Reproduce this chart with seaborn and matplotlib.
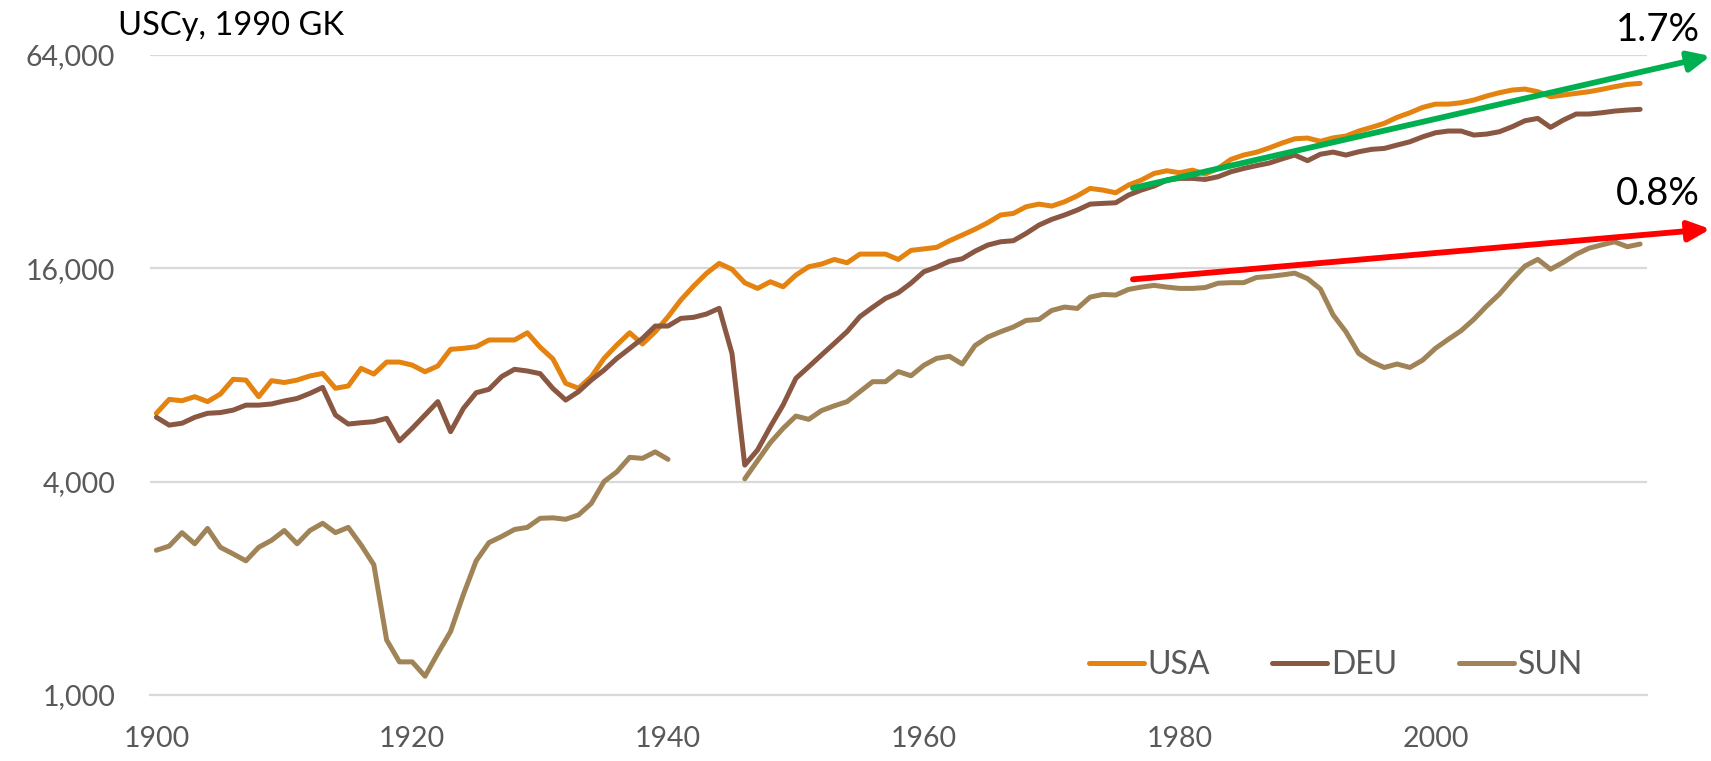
import numpy as np
import pandas as pd
import matplotlib
matplotlib.use('Agg')
import matplotlib.pyplot as plt
import seaborn as sns
from matplotlib.ticker import FixedLocator, FuncFormatter, NullLocator

# GDP per capita, USCy 1990 GK
years = list(range(1900, 2017))

usa = [6230, 6820, 6760, 6940, 6720, 7060, 7770, 7730, 6940, 7700,
       7610, 7730, 7940, 8070, 7330, 7440, 8340, 8040, 8690, 8690,
       8520, 8160, 8470, 9440, 9500, 9600, 10030, 10030, 10030, 10510,
       9570, 8870, 7570, 7330, 7900, 8900, 9710, 10510, 9770, 10580,
       11660, 13000, 14230, 15450, 16490, 15870, 14540, 14020, 14640, 14170,
       15290, 16140, 16420, 16920, 16560, 17520, 17520, 17520, 16920, 17950,
       18120, 18300, 19100, 19820, 20590, 21480, 22580, 22820, 23830, 24240,
       23930, 24610, 25580, 26840, 26550, 26090, 27430, 28330, 29580, 30100,
       29710, 30230, 29450, 30560, 32400, 33330, 33950, 34900, 36030, 37050,
       37220, 36450, 37260, 37710, 38960, 39900, 40950, 42580, 43870, 45420,
       46400, 46400, 46820, 47640, 48900, 49970, 50840, 51160, 50300, 48680,
       49210, 49760, 50300, 51070, 51950, 52750, 53090]

deu = [6070, 5770, 5840, 6070, 6230, 6260, 6360, 6570, 6570, 6620,
       6750, 6860, 7090, 7370, 6160, 5810, 5860, 5900, 6030, 5210,
       5650, 6160, 6720, 5530, 6430, 7120, 7280, 7910, 8290, 8200,
       8060, 7320, 6790, 7170, 7730, 8250, 8900, 9490, 10130, 10980,
       10980, 11540, 11620, 11870, 12320, 9190, 4450, 4910, 5710, 6580,
       7820, 8430, 9100, 9810, 10590, 11670, 12400, 13140, 13630, 14510,
       15620, 16100, 16720, 16990, 17850, 18580, 18980, 19110, 20040, 21150,
       21950, 22580, 23320, 24240, 24350, 24450, 25700, 26550, 27250, 28330,
       28640, 28640, 28450, 28950, 29900, 30550, 31120, 31640, 32510, 33330,
       32140, 33510, 33980, 33330, 34050, 34590, 34800, 35570, 36330, 37520,
       38520, 38960, 38960, 37950, 38200, 38780, 40060, 41650, 42290, 39900,
       41840, 43510, 43510, 43870, 44350, 44650, 44850]

sun = [2560, 2630, 2870, 2670, 2950, 2610, 2500, 2390, 2610, 2730,
       2910, 2670, 2910, 3050, 2870, 2970, 2650, 2330, 1430, 1240,
       1240, 1130, 1310, 1510, 1920, 2390, 2690, 2800, 2930, 2970,
       3150, 3160, 3130, 3220, 3470, 4000, 4260, 4680, 4650, 4850,
       4620, None, None, None, None, None, 4070, 4580, 5150, 5650,
       6120, 5990, 6340, 6540, 6720, 7170, 7650, 7650, 8170, 7950,
       8510, 8900, 9020, 8580, 9670, 10220, 10580, 10910, 11390, 11460,
       12150, 12420, 12310, 13250, 13480, 13430, 13930, 14140, 14300, 14140,
       14020, 14020, 14100, 14500, 14550, 14550, 15050, 15150, 15300, 15480,
       14940, 13970, 11800, 10580, 9190, 8710, 8390, 8580, 8390, 8800,
       9500, 10070, 10650, 11470, 12500, 13510, 14870, 16210, 16930, 15880,
       16610, 17500, 18200, 18600, 18980, 18380, 18700]

countries = ['USA', 'DEU', 'SUN']
colors = ['#E4830F', '#8A5742', '#A08458']
y_ticks = [1000, 4000, 16000, 64000]
x_ticks = [1900, 1920, 1940, 1960, 1980, 2000]

# trend arrows: start year/value, end year/value, label
green_trend = [1976.35, 26900, 2021.5, 63400]
red_trend = [1976.35, 14870, 2021.5, 20610]
green_label = '1.7%'
red_label = '0.8%'

# long format; SUN gets its own segment after the war gap
frames = []
for name, vals in zip(countries, [usa, deu, sun]):
    frames.append(pd.DataFrame({'year': years, 'gdp': vals, 'country': name}))
data = pd.concat(frames, ignore_index=True)
data['gdp'] = data['gdp'].astype(float)
data['segment'] = np.where((data['country'] == 'SUN') & (data['year'] > 1940), 'b', 'a')
data = data.dropna()

sns.set_style('white')
plt.rcParams['font.family'] = ['Lato', 'DejaVu Sans']

fig = plt.figure(figsize=(17.11, 7.61), dpi=100)
ax = fig.add_axes([150 / 1711, 1 - 695 / 761, 1496.5 / 1711, 640.4 / 761])

sns.lineplot(data=data, x='year', y='gdp', hue='country', hue_order=countries,
             units='segment', estimator=None, palette=dict(zip(countries, colors)),
             linewidth=3.6, solid_capstyle='round', solid_joinstyle='round', ax=ax)

ax.set_yscale('log')
ax.set_ylim(1000, 64000)
ax.set_xlim(1899.5, 2016.5)
ax.yaxis.set_major_locator(FixedLocator(y_ticks))
ax.yaxis.set_minor_locator(NullLocator())
ax.yaxis.set_major_formatter(FuncFormatter(lambda v, p: f'{v:,.0f}'))
ax.set_xticks(x_ticks)
ax.set_xlabel('')
ax.set_ylabel('')

ax.yaxis.grid(True, color='#d9d9d9', linewidth=1.6)
ax.xaxis.grid(False)
ax.set_axisbelow(True)
for side in ['top', 'right', 'left']:
    ax.spines[side].set_visible(False)
ax.spines['bottom'].set_color('#d9d9d9')
ax.spines['bottom'].set_linewidth(1.6)
ax.tick_params(axis='both', length=0, labelsize=20.5, colors='#595959')
ax.tick_params(axis='y', pad=25)
ax.tick_params(axis='x', pad=22)

# trend arrows and labels
for trend, color in [(green_trend, '#00B050'), (red_trend, '#FF0000')]:
    ax.annotate('', xy=(trend[2], trend[3]), xytext=(trend[0], trend[1]),
                arrowprops=dict(arrowstyle='-|>,head_length=0.65,head_width=0.3',
                                color=color, lw=4.2, mutation_scale=20,
                                shrinkA=0, shrinkB=0),
                annotation_clip=False)
ax.text(2020.7, 75000, green_label, ha='right', va='center', fontsize=27.5,
        color='black', clip_on=False)
ax.text(2020.7, 25870, red_label, ha='right', va='center', fontsize=27.5,
        color='black', clip_on=False)

fig.text(118 / 1711, 1 - 26 / 761, 'USCy, 1990 GK', ha='left', va='center',
         fontsize=23.5, color='black')

handles, labels = ax.get_legend_handles_labels()
ax.legend(handles, labels, loc='center', bbox_to_anchor=(0.7925, 0.047), ncol=3,
          frameon=False, fontsize=23, handlelength=1.72, handletextpad=0.12,
          columnspacing=1.95, labelcolor='#595959')

fig.savefig('out.png', dpi=100)
